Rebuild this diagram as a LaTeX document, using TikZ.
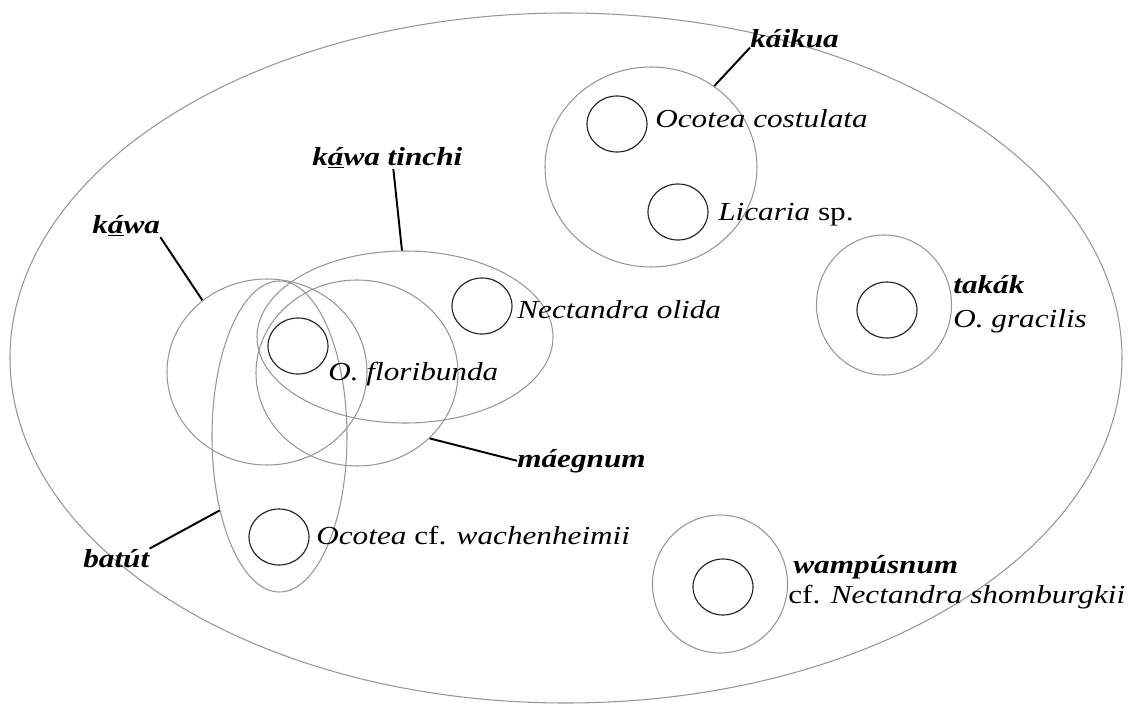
\documentclass[tikz,border=0pt]{standalone}
\usepackage{fontspec}
\setmainfont[FakeStretch=1.2]{Liberation Serif}
\usetikzlibrary{shapes.geometric}
\definecolor{setgray}{RGB}{150,150,150}
\definecolor{taxonline}{RGB}{35,35,35}

\begin{document}
\begin{tikzpicture}[
    folk/.style={draw=setgray, line width=0.6pt, ellipse, inner sep=0pt},
    taxon/.style={draw=taxonline, line width=0.65pt, ellipse, inner sep=0pt,
      minimum width=1.2cm, minimum height=1.12cm},
    species/.style={anchor=base west, inner sep=0pt,
      font=\fontsize{14.8}{18}\selectfont},
    folkname/.style={species, font=\fontsize{14.8}{18}\selectfont\bfseries\itshape},
    leader/.style={line width=1.1pt}
  ]
    \useasboundingbox (-11.32,-6.92) rectangle (11.24,7.16);
    % Draw the whole family as one big set
    \node[folk, minimum width=22.24cm, minimum height=13.8cm] (family) at (0,0) {};
    % Draw the folk categories (grey)
    \node[folk, minimum width=4.24cm, minimum height=4cm] (kaikua) at (1.70,3.82) {};
    \node[folk, minimum width=2.7cm, minimum height=2.8cm] (takak) at (6.36,1.06) {};
    \node[folk, minimum width=2.7cm, minimum height=2.76cm] (wampus) at (3.08,-4.52) {};
    \node[folk, minimum width=4cm, minimum height=3.72cm] (kawa) at (-5.98,-0.28) {};
    \node[folk, minimum width=4.04cm, minimum height=3.72cm] (maegnum) at (-4.18,-0.30) {};
    \node[folk, minimum width=5.92cm, minimum height=3.44cm] (tinchi) at (-3.22,0.42) {};
    \node[folk, minimum width=2.7cm, minimum height=6.22cm] (batut) at (-5.73,-1.57) {};
    % Draw the species (black)
    \node[taxon] (costulata) at (1.02,4.68) {};
    \node[taxon] (licaria) at (2.24,2.92) {};
    \node[taxon] (gracilis) at (6.42,0.96) {};
    \node[taxon] (shomb) at (3.14,-4.58) {};
    \node[taxon] (floribunda) at (-5.36,0.24) {};
    \node[taxon] (olida) at (-1.68,1.04) {};
    \node[taxon] (wachen) at (-5.74,-3.58) {};
    % Species names
    \node[species] (tcostulata) at (1.78,4.62) {\textit{Ocotea costulata}};
    \node[species] (tlicaria) at (3.04,2.76) {\textit{Licaria} sp.};
    \node[species] (tgracilis) at (7.74,0.62) {\textit{O. gracilis}};
    \node[species] (tshomb) at (4.44,-4.90) {cf. \textit{Nectandra shomburgkii}};
    \node[species] (tfloribunda) at (-4.76,-0.44) {\textit{O. floribunda}};
    \node[species] (tolida) at (-0.98,0.80) {\textit{Nectandra olida}};
    \node[species] (twachen) at (-5.0,-3.72) {\textit{Ocotea} cf. \textit{wachenheimii}};
    % Folk names
    \node[folkname] (lkaikua) at (3.68,6.22) {káikua};
    \node[folkname] (ltakak) at (7.74,1.30) {takák};
    \node[folkname] (lwampus) at (4.54,-4.30) {wampúsnum};
    \node[folkname] (lkawa) at (-9.48,2.50) {k\underline{á}wa};
    \node[folkname] (ltinchi) at (-5.08,3.86) {k\underline{á}wa tinchi};
    \node[folkname] (lmaegnum) at (-0.98,-2.18) {máegnum};
    \node[folkname] (lbatut) at (-9.66,-4.18) {batút};
    % Leader lines from names to sets
    \draw[leader] (lkaikua.south west) -- (kaikua.52);
    \draw[leader] (lkawa.south east) -- (kawa.132);
    \draw[leader] ([xshift=0.12cm]ltinchi.south) -- (tinchi.92);
    \draw[leader] (lmaegnum.west) -- (maegnum.-42);
    \draw[leader] (lbatut.north east) -- (batut.231);
  \end{tikzpicture}
\end{document}
